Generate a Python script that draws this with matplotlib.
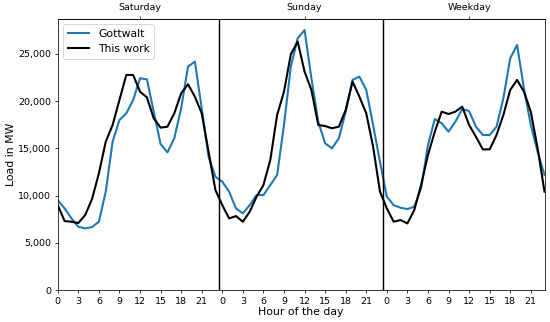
import numpy as np
import matplotlib
matplotlib.use('Agg')
import matplotlib.pyplot as plt
from matplotlib.ticker import StrMethodFormatter

# hourly load, Saturday (0-23), Sunday (24-47), Weekday (48-71)
gottwalt = [9530, 8650, 7590, 6710, 6530, 6670, 7240, 10420, 15710, 18010, 18715, 20130,
            22420, 22320, 18890, 15460, 14580, 16070, 19240, 23660, 24190, 19240, 14120, 12000,
            11480, 10420, 8650, 8120, 9000, 10060, 10060, 11120, 12180, 17480, 23660, 26660,
            27540, 22420, 17830, 15540, 15010, 16070, 18890, 22250, 22600, 21190, 17480, 13590,
            9890, 9000, 8720, 8580, 8830, 10770, 15360, 18110, 17660, 16770, 17830, 19170,
            18960, 17300, 16420, 16420, 17300, 20300, 24540, 25950, 21360, 17480, 14650, 12180]
this_work = [9000, 7310, 7240, 7100, 7945, 9640, 12360, 15710, 17480, 20130, 22775, 22775,
             21010, 20410, 18185, 17200, 17300, 18715, 20830, 21790, 20480, 18715, 14650, 10590,
             9000, 7590, 7840, 7240, 8300, 9890, 11120, 13770, 18540, 21010, 24960, 26310,
             23130, 21190, 17480, 17370, 17130, 17300, 19070, 22070, 20480, 18715, 15180, 10420,
             8650, 7240, 7420, 7060, 8470, 11120, 14300, 16770, 18890, 18640, 18890, 19420,
             17480, 16240, 14900, 14900, 16420, 18540, 21190, 22250, 21010, 18890, 15010, 10420]
days = ['Saturday', 'Sunday', 'Weekday']

hours = np.arange(len(gottwalt))

fig, ax = plt.subplots(figsize=(550 / 68, 322 / 68), dpi=68)
fig.subplots_adjust(left=0.105, right=0.99, top=0.941, bottom=0.099)

ax.plot(hours, gottwalt, color='C0', lw=2.2, label='Gottwalt')
ax.plot(hours, this_work, color='black', lw=2.2, label='This work')
for b in (23.5, 47.5):
    ax.axvline(b, color='black', lw=1.5)

ax.set_xlim(0, 71)
ax.set_ylim(0, 28700)
ticks = np.arange(0, 72, 3)
ax.set_xticks(ticks)
ax.set_xticklabels([str(t % 24) for t in ticks])
ax.yaxis.set_major_formatter(StrMethodFormatter('{x:,.0f}'))
ax.tick_params(labelsize=10)

top = ax.secondary_xaxis('top')
top.set_xticks([12, 36, 60])
top.set_xticklabels(days)
top.tick_params(labelsize=10)

ax.set_xlabel('Hour of the day', fontsize=11.5, labelpad=1)
ax.set_ylabel('Load in MW', fontsize=11.5, labelpad=2)
ax.legend(loc='upper left', fontsize=11.5)

plt.savefig('out.png')
